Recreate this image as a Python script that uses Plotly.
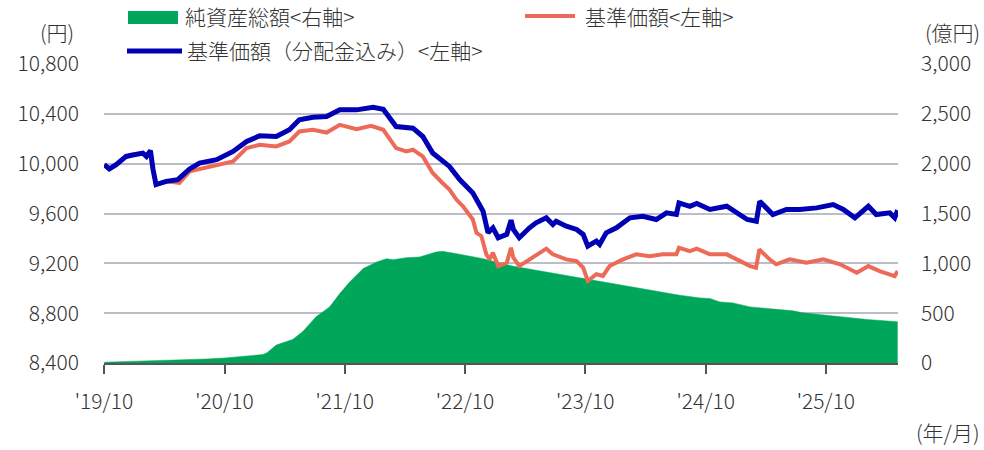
import plotly.graph_objects as go

# ---- data ----
nav_adj_dates = [
    "2019-10-02", "2019-10-17", "2019-11-07", "2019-12-07", "2019-12-27", "2020-01-27",
    "2020-02-07", "2020-02-19", "2020-02-27", "2020-03-07", "2020-04-07", "2020-05-12",
    "2020-06-17", "2020-07-17", "2020-09-07", "2020-10-27", "2020-12-07", "2021-01-16",
    "2021-03-07", "2021-04-16", "2021-05-16", "2021-06-26", "2021-08-07", "2021-09-16",
    "2021-11-06", "2021-12-26", "2022-01-26", "2022-02-16", "2022-03-06", "2022-04-26",
    "2022-05-26", "2022-06-25", "2022-07-15", "2022-08-15", "2022-09-15", "2022-10-25",
    "2022-11-25", "2022-12-05", "2022-12-10", "2022-12-25", "2023-01-10", "2023-02-05",
    "2023-02-18", "2023-02-25", "2023-03-15", "2023-04-15", "2023-05-05", "2023-06-05",
    "2023-06-25", "2023-07-05", "2023-08-05", "2023-09-05", "2023-09-25", "2023-10-09",
    "2023-11-04", "2023-11-14", "2023-12-04", "2024-01-04", "2024-02-14", "2024-03-24",
    "2024-05-04", "2024-06-04", "2024-07-04", "2024-07-12", "2024-08-14", "2024-09-04",
    "2024-10-14", "2024-12-04", "2025-01-14", "2025-02-04", "2025-03-04", "2025-03-14",
    "2025-04-03", "2025-04-23", "2025-06-03", "2025-07-13", "2025-09-03", "2025-10-23",
    "2025-11-23", "2025-12-28", "2026-02-07", "2026-03-03", "2026-04-13", "2026-04-28",
    "2026-05-07",
]
nav_adj_values = [
    9992, 9958, 9992, 10058, 10069, 10085,
    10058, 10104, 9952, 9832, 9858, 9872,
    9958, 10005, 10032, 10098, 10178, 10224,
    10218, 10272, 10352, 10373, 10378, 10432,
    10432, 10453, 10437, 10365, 10298, 10285,
    10218, 10085, 10045, 9978, 9872, 9765,
    9618, 9525, 9445, 9485, 9405, 9432,
    9546, 9472, 9405, 9485, 9525, 9565,
    9512, 9538, 9498, 9472, 9432, 9338,
    9378, 9352, 9445, 9485, 9565, 9578,
    9552, 9605, 9592, 9685, 9658, 9680,
    9632, 9658, 9592, 9552, 9538, 9698,
    9645, 9592, 9632, 9632, 9645, 9672,
    9632, 9565, 9658, 9592, 9605, 9565,
    9626,
]

nav_dates = [
    "2019-10-02", "2019-10-17", "2019-11-07", "2019-12-07", "2019-12-27", "2020-01-27",
    "2020-02-07", "2020-02-19", "2020-02-27", "2020-03-07", "2020-04-07", "2020-05-17",
    "2020-06-17", "2020-09-07", "2020-10-27", "2020-12-07", "2021-01-16", "2021-03-07",
    "2021-04-16", "2021-05-16", "2021-06-26", "2021-08-07", "2021-09-16", "2021-11-06",
    "2021-12-20", "2022-01-26", "2022-03-06", "2022-04-06", "2022-04-26", "2022-05-26",
    "2022-06-25", "2022-07-25", "2022-08-15", "2022-09-05", "2022-09-25", "2022-10-25",
    "2022-11-05", "2022-11-20", "2022-12-05", "2022-12-15", "2022-12-25", "2023-01-10",
    "2023-02-05", "2023-02-18", "2023-02-25", "2023-03-15", "2023-04-15", "2023-05-05",
    "2023-06-05", "2023-06-25", "2023-08-05", "2023-09-05", "2023-09-25", "2023-10-09",
    "2023-11-04", "2023-11-24", "2023-12-14", "2024-01-24", "2024-03-04", "2024-04-14",
    "2024-05-24", "2024-07-04", "2024-07-12", "2024-08-14", "2024-09-04", "2024-10-14",
    "2024-12-04", "2025-01-14", "2025-02-13", "2025-03-03", "2025-03-13", "2025-04-13",
    "2025-05-03", "2025-06-13", "2025-08-03", "2025-09-23", "2025-11-13", "2026-01-03",
    "2026-02-07", "2026-03-13", "2026-04-28", "2026-05-07",
]
nav_values = [
    9992, 9958, 9992, 10058, 10069, 10085,
    10058, 10104, 9952, 9832, 9858, 9845,
    9938, 9984, 10018, 10125, 10152, 10138,
    10178, 10258, 10272, 10250, 10312, 10277,
    10304, 10272, 10125, 10098, 10112, 10058,
    9925, 9845, 9792, 9712, 9658, 9552,
    9445, 9418, 9272, 9232, 9285, 9178,
    9205, 9325, 9245, 9178, 9232, 9258,
    9318, 9272, 9232, 9218, 9165, 9058,
    9112, 9098, 9178, 9232, 9272, 9258,
    9272, 9272, 9325, 9298, 9318, 9272,
    9272, 9218, 9178, 9165, 9312, 9232,
    9192, 9232, 9205, 9232, 9192, 9125,
    9178, 9138, 9098, 9138,
]

aum_dates = [
    "2019-10-02", "2020-02-15", "2020-08-07", "2020-10-01", "2020-12-15", "2021-01-26",
    "2021-02-07", "2021-03-07", "2021-04-26", "2021-05-26", "2021-07-06", "2021-08-16",
    "2021-09-16", "2021-10-16", "2021-11-26", "2022-01-06", "2022-02-05", "2022-02-25",
    "2022-04-06", "2022-05-16", "2022-07-05", "2022-07-25", "2022-09-05", "2022-11-05",
    "2022-11-25", "2023-02-25", "2023-06-05", "2023-10-04", "2023-12-24", "2024-05-14",
    "2024-07-14", "2024-09-14", "2024-10-14", "2024-11-13", "2024-12-23", "2025-02-13",
    "2025-04-03", "2025-06-23", "2025-07-23", "2025-10-23", "2026-02-03", "2026-05-07",
]
aum_values = [
    8, 20, 40, 50, 70, 85,
    103, 180, 237, 313, 463, 563,
    697, 813, 947, 1013, 1047, 1037,
    1057, 1063, 1113, 1120, 1097, 1063,
    1047, 970, 913, 847, 797, 713,
    680, 653, 647, 613, 603, 563,
    547, 523, 503, 470, 437, 413,
]

tick_dates = ["2019-10-01", "2020-10-01", "2021-10-01", "2022-10-01",
              "2023-10-01", "2024-10-01", "2025-10-01"]
tick_labels = ["'19/10", "'20/10", "'21/10", "'22/10", "'23/10", "'24/10", "'25/10"]

left_ticks = [8400, 8800, 9200, 9600, 10000, 10400, 10800]
right_ticks = [0, 500, 1000, 1500, 2000, 2500, 3000]

legend_aum = "純資産総額<右軸>"
legend_nav = "基準価額<左軸>"
legend_adj = "基準価額（分配金込み）<左軸>"

# ---- layout constants (window pixels; body margin removed below) ----
W, H = 984, 450
PL, PR, PT, PB = 104, 898, 64, 363          # plot box
ML, MR, MT, MB = PL, W - PR, PT, H - PB
PW, PH = PR - PL, PB - PT

FONT = "Noto Sans CJK JP"
TXT = "#333333"
GREEN = "#00a65a"
RED = "#ee6a58"
BLUE = "#0000b4"


def px(xp):
    return (xp - PL) / PW


def py(yp):
    return (PB - yp) / PH


fig = go.Figure()

fig.add_trace(go.Scatter(
    x=aum_dates, y=aum_values, mode="lines", fill="tozeroy",
    line=dict(color=GREEN, width=0.5), fillcolor=GREEN,
    yaxis="y", showlegend=False, name=legend_aum,
))
fig.add_trace(go.Scatter(
    x=nav_dates, y=nav_values, mode="lines",
    line=dict(color=RED, width=4), yaxis="y2", showlegend=False, name=legend_nav,
))
fig.add_trace(go.Scatter(
    x=nav_adj_dates, y=nav_adj_values, mode="lines",
    line=dict(color=BLUE, width=5), yaxis="y2", showlegend=False, name=legend_adj,
))

tf = dict(size=21, color=TXT, weight=300, family=FONT)

fig.update_layout(
    width=W, height=H,
    margin=dict(l=ML, r=MR, t=MT, b=MB),
    paper_bgcolor="white", plot_bgcolor="white",
    font=dict(family=FONT, size=21, color=TXT, weight=300),
    xaxis=dict(
        type="date", range=["2019-10-01", "2026-05-08"],
        tickvals=tick_dates, ticktext=tick_labels,
        showgrid=False, showline=True, linecolor="#555555", linewidth=1.5,
        ticks="outside", ticklen=9, tickcolor="#555555", tickwidth=1.5,
        tickfont=tf, ticklabelstandoff=10,
        zeroline=False, fixedrange=True,
    ),
    yaxis=dict(
        side="right", range=[0, 3000], tickvals=right_ticks,
        tickformat=",d", showgrid=False, zeroline=False,
        tickfont=tf, ticklabelstandoff=22, fixedrange=True,
    ),
    yaxis2=dict(
        overlaying="y", side="left", range=[8400, 10800], tickvals=left_ticks,
        tickformat=",d", showgrid=True, gridcolor="#bdbdc8", gridwidth=1.5,
        zeroline=False, tickfont=tf, ticklabelstandoff=24, fixedrange=True,
    ),
    showlegend=False,
)

shapes = [
    dict(type="rect", xref="paper", yref="paper", x0=px(128), x1=px(178),
         y0=py(24), y1=py(11), fillcolor=GREEN, line=dict(width=0)),
    dict(type="line", xref="paper", yref="paper", x0=px(525), x1=px(575),
         y0=py(16), y1=py(16), line=dict(color=RED, width=4)),
    dict(type="line", xref="paper", yref="paper", x0=px(127), x1=px(182),
         y0=py(51), y1=py(51), line=dict(color=BLUE, width=5)),
]
fig.update_layout(shapes=shapes)

ann = [
    dict(text=legend_aum, x=px(183), y=py(16), xanchor="left", yanchor="middle"),
    dict(text=legend_nav, x=px(583), y=py(16), xanchor="left", yanchor="middle"),
    dict(text=legend_adj, x=px(185), y=py(50), xanchor="left", yanchor="middle"),
    dict(text="(円)", x=px(76), y=py(32), xanchor="right", yanchor="middle"),
    dict(text="(億円)", x=px(982), y=py(32), xanchor="right", yanchor="middle"),
    dict(text="(年/月)", x=px(982), y=py(432), xanchor="right", yanchor="middle"),
]
for a in ann:
    a.update(xref="paper", yref="paper", showarrow=False, font=tf)
fig.update_layout(annotations=ann)

fig.write_html(
    "out.html",
    config={"displayModeBar": False},
    post_script="document.body.style.margin='0';document.body.style.overflow='hidden';",
)
